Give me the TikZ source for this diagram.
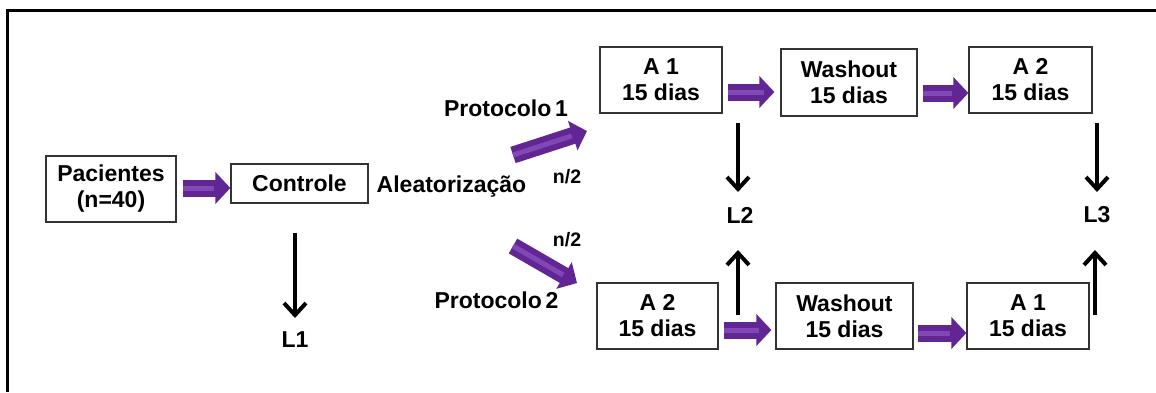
\documentclass[tikz,border=0pt]{standalone}
\usepackage{fontspec}
\setmainfont{Liberation Sans}
\usetikzlibrary{arrows.meta,calc}
\definecolor{pcol}{RGB}{98,38,148}
\definecolor{plight}{RGB}{128,72,180}
\begin{document}
\begin{tikzpicture}[x=1pt,y=-1pt,
 box/.style={draw=black!80, line width=1.2pt, fill=white, align=center, inner sep=0pt, font=\fontsize{23}{26}\selectfont\bfseries},
 lbl/.style={inner sep=0pt, font=\fontsize{23}{26}\selectfont\bfseries},
 small/.style={inner sep=0pt, font=\fontsize{19.5}{22}\selectfont\bfseries},
 parrow/.style={draw=pcol, line width=17pt, -{Triangle[length=15pt,width=31pt]},
   postaction={draw=plight, line width=5pt, -, shorten >=16pt}},
 darrow/.style={draw=pcol, line width=17pt, -{Triangle[length=15pt,width=30pt]},
   postaction={draw=plight, line width=5pt, -, shorten >=16pt}},
 barrow/.style={line width=4pt, -{Straight Barb[length=12pt,width=22pt]}}]
\useasboundingbox (0,0) rectangle (1156,392);
\fill[white] (0,0) rectangle (1156,392);
\draw[line width=3pt] (7.5,392) -- (7.5,10.5) -- (1156,10.5);

% nodes
\node[box, minimum width=130pt, minimum height=66pt] (pac) at (111,189) {Pacientes\\(n=40)};
\node[box, minimum width=137pt, minimum height=39pt] (ctrl) at (299.5,183.5) {Controle};
\node[lbl] (alea) at (451.5,187) {Aleatorização};
\node[lbl] (p1) at (506,108) {Protocolo\,1};
\node[lbl] (p2) at (496.5,300) {Protocolo\,2};
\node[small] (n1) at (567,177) {n/2};
\node[small] (n2) at (567,240) {n/2};
\node[box, minimum width=122pt, minimum height=66pt] (A1t) at (661,80) {A 1\\15 dias};
\node[box, minimum width=136pt, minimum height=67pt] (Wt) at (849,82.5) {Washout\\15 dias};
\node[box, minimum width=123pt, minimum height=66pt] (A2t) at (1030.5,80) {A 2\\15 dias};
\node[box, minimum width=121pt, minimum height=66pt] (A2b) at (657.5,316) {A 2\\15 dias};
\node[box, minimum width=137pt, minimum height=66pt] (Wb) at (844.5,316) {Washout\\15 dias};
\node[box, minimum width=122pt, minimum height=66pt] (A1b) at (1028,316) {A 1\\15 dias};
\node[lbl] (L1) at (295,340) {L1};
\node[lbl] (L2) at (740,215) {L2};
\node[lbl] (L3) at (1097,215) {L3};

% helper coordinates
\coordinate (y188) at (0,188);
\coordinate (y92) at (0,92);
\coordinate (y93) at (0,93);
\coordinate (y330) at (0,330);
\coordinate (y333) at (0,333);
\coordinate (d1s) at (513,155);
\coordinate (d1e) at (587,131);
\coordinate (d2s) at (513,246);
\coordinate (d2e) at (577,283);

% purple arrows
\draw[parrow, shorten <=6pt] (pac.east |- y188) -- (ctrl.west |- y188);
\draw[parrow, shorten <=5pt, shorten >=6pt] (A1t.east |- y92) -- (Wt.west |- y92);
\draw[parrow, shorten <=5pt] (Wt.east |- y93) -- (A2t.west |- y93);
\draw[parrow, shorten <=5pt, shorten >=4pt] (A2b.east |- y330) -- (Wb.west |- y330);
\draw[parrow, shorten <=4pt] (Wb.east |- y333) -- (A1b.west |- y333);
\draw[darrow] (d1s) -- (d1e);
\draw[darrow] (d2s) -- (d2e);

% black arrows
\coordinate (a1) at (0,233); \coordinate (a2) at (0,318);
\draw[barrow] (L1 |- a1) -- (L1 |- a2);
\coordinate (b1) at (0,123); \coordinate (b2) at (0,192);
\coordinate (c1) at (0,315); \coordinate (c2) at (0,250);
\draw[barrow] ([xshift=-2pt]L2 |- b1) -- ([xshift=-2pt]L2 |- b2);
\draw[barrow] ([xshift=-2pt]L2 |- c1) -- ([xshift=-2pt]L2 |- c2);
\draw[barrow] (L3 |- b1) -- (L3 |- b2);
\draw[barrow] ([xshift=-2pt]L3 |- c1) -- ([xshift=-2pt]L3 |- c2);
\end{tikzpicture}
\end{document}
